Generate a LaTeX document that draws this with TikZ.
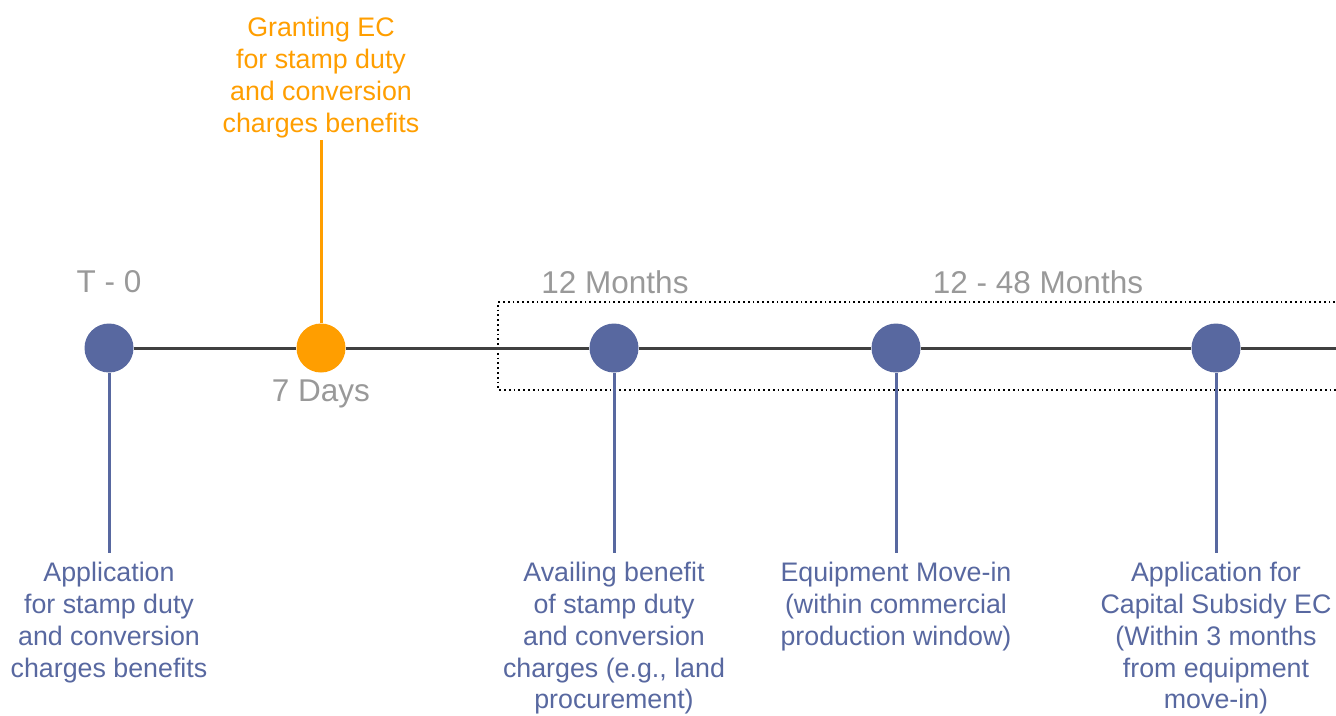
\documentclass[tikz,border=0pt]{standalone}
\usepackage{fontspec}
\setmainfont{Liberation Sans}
\definecolor{tlblue}{HTML}{5868A0}
\definecolor{tlorange}{HTML}{FF9E00}
\definecolor{tlgray}{HTML}{999999}
\definecolor{tlline}{HTML}{404040}
\tikzset{
  dotnode/.style={circle,fill=tlblue,minimum size=49pt,inner sep=0pt},
  orangedot/.style={circle,fill=tlorange,minimum size=49pt,inner sep=0pt},
  period/.style={text=tlgray,font=\fontsize{31.5}{36}\selectfont,inner sep=0pt},
  desc/.style={text=tlblue,font=\fontsize{26.8}{31.8}\selectfont,align=center,inner sep=0pt,anchor=north},
  odesc/.style={text=tlorange,font=\fontsize{26.8}{31.8}\selectfont,align=center,inner sep=0pt,anchor=north},
  stem/.style={tlblue,line width=3pt},
  ostem/.style={tlorange,line width=3pt},
  axis/.style={tlline,line width=3pt},
  frame/.style={black,line width=1.8pt,dash pattern=on 1.8pt off 3pt}
}
\begin{document}
\begin{tikzpicture}[x=1pt,y=-1pt]
\useasboundingbox (0,0) rectangle (1336,715);
% dotted frame (open to the right)
\draw[frame] (1340,302) -- (498,302) -- (498,390) -- (1340,390);
% axis
\coordinate (axend) at (1340,348);
\node[dotnode] (n0) at (109,348) {};
\node[orangedot] (n1) at (321,348) {};
\node[dotnode] (n2) at (614,348) {};
\node[dotnode] (n3) at (896,348) {};
\node[dotnode] (n4) at (1216,348) {};
\draw[axis] (n0) -- (n1) -- (n2) -- (n3) -- (n4) -- (axend);
% labels
\node[period] (l0) at (109,282) {T - 0};
\node[period] (l1) at (321,394) {7 Days};
\node[period] (l2) at (615,282) {12 Months};
\node[period] (l3) at (1038,282) {12 - 48 Months};
% texts
\node[odesc] (t1) at (321,17) {Granting EC\\for stamp duty\\and conversion\\charges benefits};
\node[desc] (b0) at (109,562) {Application\\for stamp duty\\and conversion\\charges benefits};
\node[desc] (b2) at (614,562) {Availing benefit\\of stamp duty\\and conversion\\charges (e.g., land\\procurement)};
\node[desc] (b3) at (896,562) {Equipment Move-in\\(within commercial\\production window)};
\node[desc] (b4) at (1216,562) {Application for\\Capital Subsidy EC\\(Within 3 months\\from equipment\\move-in)};
% stems
\coordinate (s0) at (109,553);
\coordinate (s2) at (614,553);
\coordinate (s3) at (896,553);
\coordinate (s4) at (1216,553);
\coordinate (s1) at (321,140);
\draw[stem] (n0.south) -- (s0);
\draw[stem] (n2.south) -- (s2);
\draw[stem] (n3.south) -- (s3);
\draw[stem] (n4.south) -- (s4);
\draw[ostem] (n1.north) -- (s1);
\end{tikzpicture}
\end{document}
